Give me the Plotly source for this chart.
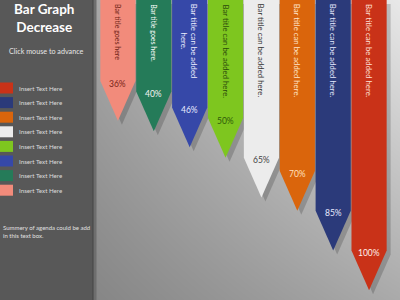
import plotly.graph_objects as go

# ---- data ----
values = [36, 40, 46, 50, 65, 70, 85, 100]
value_labels = ["36%", "40%", "46%", "50%", "65%", "70%", "85%", "100%"]
bar_titles = ["Bar title goes here", "Bar title goes here.", "Bar title can be added<br>here.",
              "Bar title can be added here.", "Bar title can be added here.",
              "Bar title can be added here.", "Bar title can be added here.",
              "Bar title can be added here."]
legend_labels = ["Insert Text Here"] * 8
title_text = "Bar Graph<br>Decrease"
subtitle_text = "Click mouse to advance"
summary_text = "Summery of agenda could be add<br>in this text box."

# ---- styles ----
bar_colors = ["#f28b7b", "#257b59", "#3648a8", "#7ec61f", "#ececec", "#da650c", "#2b3a7a", "#c93218"]
title_colors = ["#6b1e14", "#ffffff", "#f0f0ff", "#2b4a0b", "#333333", "#ffe6cc", "#e8eaff", "#ffe0d8"]
label_colors = ["#7a2418", "#f4f4f4", "#e8eaff", "#2e5a0a", "#444444", "#ffe0bf", "#e8eaff", "#fff0ec"]
title_sizes = [7, 7, 7.8, 7.8, 7.8, 7.8, 7.8, 7.8]

W, H = 400, 300
Y_TOP, Y_BOT = -9.6, 103.7
X_LEFT, X_RIGHT = -0.611, 7.862
HEAD = 15.0
HALF = 0.49

fig = go.Figure()

# background gradient (styling only)
fig.add_trace(go.Heatmap(
    x=[X_LEFT, X_RIGHT], y=[Y_TOP, Y_BOT],
    z=[[168, 232], [134, 170]], zmin=0, zmax=255, zsmooth="best",
    colorscale=[[0, "rgb(0,0,0)"], [1, "rgb(255,255,255)"]],
    showscale=False, hoverinfo="skip"))

dx_sh = 4 / 35.9
dy_sh = 4 / 2.648
# shadows
for i, v in enumerate(values):
    xs = [i - HALF, i - HALF, i, i + HALF, i + HALF, i - HALF]
    ys = [Y_TOP, v - HEAD, v, v - HEAD, Y_TOP, Y_TOP]
    fig.add_trace(go.Scatter(
        x=[a + dx_sh for a in xs], y=[b + dy_sh for b in ys],
        fill="toself", fillcolor="rgba(0,0,0,0.18)", mode="lines",
        line=dict(width=0, color="rgba(0,0,0,0)"), hoverinfo="skip", showlegend=False))
# bars
for i, v in enumerate(values):
    xs = [i - HALF, i - HALF, i, i + HALF, i + HALF, i - HALF]
    ys = [Y_TOP, v - HEAD, v, v - HEAD, Y_TOP, Y_TOP]
    fig.add_trace(go.Scatter(
        x=xs, y=ys, fill="toself", fillcolor=bar_colors[i], mode="lines",
        line=dict(width=0, color=bar_colors[i]), hoverinfo="skip", showlegend=False))

ann = []
for i, v in enumerate(values):
    ann.append(dict(x=i, xref="x", y=1, yref="paper", yanchor="top", xanchor="center",
                    yshift=-2, text=bar_titles[i], textangle=90, showarrow=False,
                    font=dict(family="Lato", size=title_sizes[i], color=title_colors[i])))
    ann.append(dict(x=i, y=v - 14, xref="x", yref="y", text=value_labels[i], showarrow=False,
                    font=dict(family="Lato", size=8.5, color=label_colors[i])))

def px(xp):
    return xp / W

def py(yp):
    return 1 - yp / H

ann.append(dict(x=px(44), y=py(18), xref="paper", yref="paper", text="<b>" + title_text + "</b>",
                showarrow=False, xanchor="center", yanchor="middle",
                font=dict(family="Lato", size=13.5, color="#ffffff")))
ann.append(dict(x=px(46.5), y=py(51), xref="paper", yref="paper", text=subtitle_text,
                showarrow=False, xanchor="center", yanchor="middle",
                font=dict(family="Lato", size=7.2, color="#e6e6e6")))

shapes = []
legend_colors = bar_colors[::-1]
for k, lab in enumerate(legend_labels):
    yc = 88 + k * 14.6
    shapes.append(dict(type="rect", xref="paper", yref="paper", x0=0, x1=px(13),
                       y0=py(yc - 5.5), y1=py(yc + 5.5), fillcolor=legend_colors[k],
                       line=dict(width=0)))
    ann.append(dict(x=px(17), y=py(yc), xref="paper", yref="paper", text=lab, showarrow=False,
                    xanchor="left", yanchor="middle",
                    font=dict(family="Lato", size=6.2, color="#dcdcdc")))

ann.append(dict(x=px(1), y=py(222), xref="paper", yref="paper", text=summary_text, showarrow=False,
                xanchor="left", yanchor="top", align="left",
                font=dict(family="Lato", size=6, color="#e0e0e0")))

# panel border
shapes.append(dict(type="rect", xref="paper", yref="paper", x0=px(93), x1=px(96.5), y0=0, y1=1,
                   fillcolor="#6e6e6e", line=dict(width=0), layer="above"))
shapes.append(dict(type="line", xref="paper", yref="paper", x0=px(93), x1=px(93), y0=0, y1=1,
                   line=dict(color="#454545", width=1), layer="above"))

fig.update_layout(
    width=W, height=H, margin=dict(l=0, r=0, t=0, b=0),
    paper_bgcolor="#585858", plot_bgcolor="#a0a0a0",
    xaxis=dict(domain=[96 / W, 1], range=[X_LEFT, X_RIGHT], visible=False, fixedrange=True),
    yaxis=dict(domain=[0, 1], range=[Y_BOT, Y_TOP], visible=False, fixedrange=True),
    showlegend=False, annotations=ann, shapes=shapes,
)

fig.write_html("out.html")
